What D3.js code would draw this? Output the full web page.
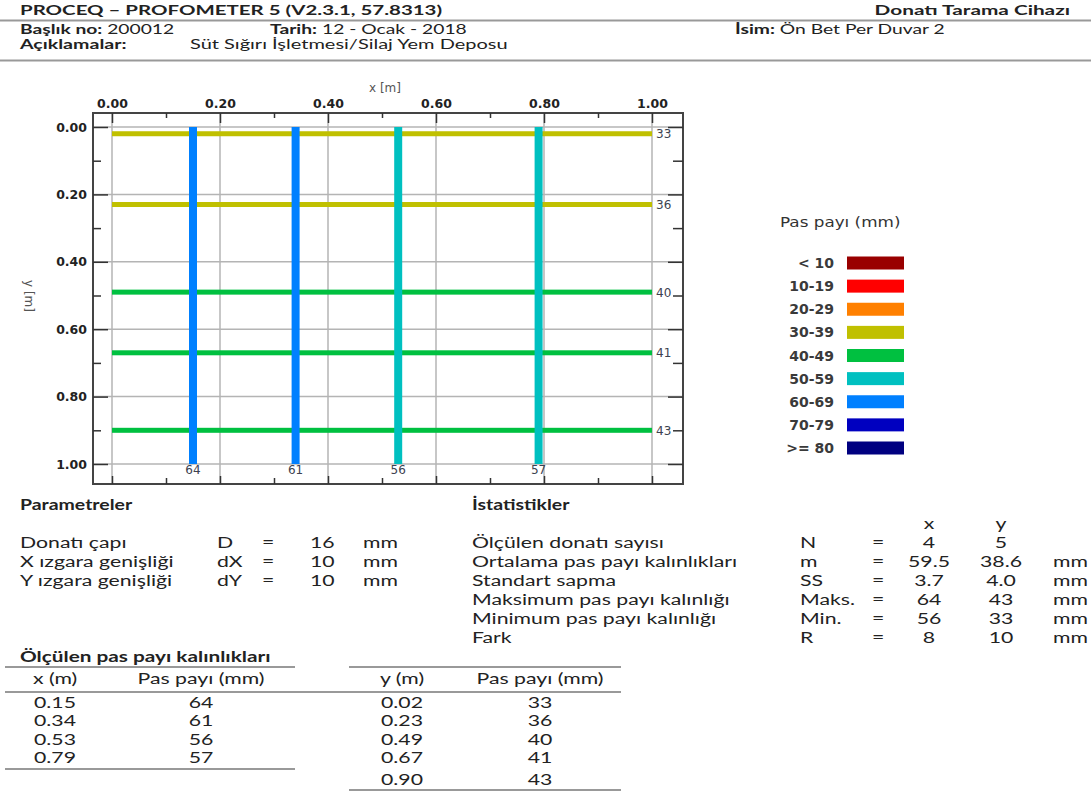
<!DOCTYPE html>
<html>
<head>
<meta charset="utf-8">
<script src="https://cdn.jsdelivr.net/npm/d3@7"></script>
<style>
  body { margin: 0; background: #fff; }
  svg text { font-family: Lato, sans-serif; fill: #222; }
  .plot text { font-family: "DejaVu Sans", sans-serif; }
</style>
</head>
<body>
<svg id="chart" width="1091" height="791"></svg>
<script>
// measured rebars along x (vertical bars) and y (horizontal bars)
const xPos = [0.15, 0.34, 0.53, 0.79];
const xCover = [64, 61, 56, 57];
const yPos = [0.02, 0.23, 0.49, 0.67, 0.90];
const yCover = [33, 36, 40, 41, 43];

// cover classes for the legend
const legendLabels = ["< 10", "10-19", "20-29", "30-39", "40-49", "50-59", "60-69", "70-79", ">= 80"];
const legendColors = ["#990000", "#ff0000", "#ff8000", "#c0c000", "#00c040", "#00c0c0", "#0080ff", "#0000c0", "#000080"];
const legendBreaks = [10, 20, 30, 40, 50, 60, 70, 80];

const majorTicks = [0, 0.2, 0.4, 0.6, 0.8, 1.0];
const minorTicks = [0.1, 0.3, 0.5, 0.7, 0.9];

// parameters block
const paramLabels = ["Donatı çapı", "X ızgara genişliği", "Y ızgara genişliği"];
const paramSymbols = ["D", "dX", "dY"];
const paramValues = ["16", "10", "10"];

// statistics block
const statLabels = ["Ölçülen donatı sayısı", "Ortalama pas payı kalınlıkları", "Standart sapma",
  "Maksimum pas payı kalınlığı", "Minimum pas payı kalınlığı", "Fark"];
const statSymbols = ["N", "m", "SS", "Maks.", "Min.", "R"];
const statX = ["4", "59.5", "3.7", "64", "56", "8"];
const statY = ["5", "38.6", "4.0", "43", "33", "10"];
const statUnits = ["", "mm", "mm", "mm", "mm", "mm"];

// tables
const tableX = ["0.15", "0.34", "0.53", "0.79"];
const tableY = ["0.02", "0.23", "0.49", "0.67", "0.90"];

const svg = d3.select("#chart");
svg.append("rect").attr("width", 1091).attr("height", 791).attr("fill", "#fff");

// width of a sample string, used to work out the sideways stretch
const sample = "Ortalama pas payı kalınlıkları Süt Sığırı PROCEQ 0.15";
function measure(family, size, bold) {
  const t = svg.append("text").style("font-family", family).style("font-size", size + "px")
    .style("font-weight", bold ? "bold" : "normal").text(sample);
  const w = t.node().getComputedTextLength();
  t.remove();
  return w;
}

// the report font is wide and short, so text gets stretched sideways.
// size/sx were tuned with Open Sans; lsize is the Lato size used in the end
function txt(x, y, s, opts) {
  opts = opts || {};
  const size = opts.size || 16;
  const lsize = opts.lsize || 15;
  const sx0 = opts.sx || (opts.bold ? 1.17 : 1.27);
  const sx = sx0 * measure("Open Sans", size, opts.bold) / measure("Lato", lsize, opts.bold);
  return svg.append("text")
    .attr("transform", `translate(${x},${y}) scale(${sx.toFixed(3)},1)`)
    .attr("text-anchor", opts.anchor || "start")
    .style("font-size", lsize + "px")
    .style("font-weight", opts.bold ? "bold" : "normal")
    .text(s);
}

function pair(x, y, label, value) {
  const sx = 1.27 * measure("Open Sans", 14.5, false) / measure("Lato", 12.5, false);
  const t = svg.append("text")
    .attr("transform", `translate(${x},${y}) scale(${sx.toFixed(3)},1)`)
    .style("font-size", "12.5px");
  t.append("tspan").style("font-weight", "bold").text(label);
  t.append("tspan").text(" " + value);
}

// ---------- header ----------
txt(20, 15, "PROCEQ – PROFOMETER 5 (V2.3.1, 57.8313)", {bold: true, size: 15, sx: 1.23, lsize: 14});
txt(1070, 15, "Donatı Tarama Cihazı", {bold: true, size: 15, sx: 1.25, lsize: 14, anchor: "end"});
svg.append("line").attr("x1", 0).attr("x2", 1091).attr("y1", 20.5).attr("y2", 20.5)
  .attr("stroke", "#999").attr("stroke-width", 2);
pair(20, 34, "Başlık no:", "200012");
pair(270, 34, "Tarih:", "12 - Ocak - 2018");
pair(735, 34, "İsim:", "Ön Bet Per Duvar 2");
txt(20, 49, "Açıklamalar:", {bold: true, size: 14.5, sx: 1.22, lsize: 12.5});
txt(190, 49, "Süt Sığırı İşletmesi/Silaj Yem Deposu", {size: 14.5, sx: 1.32, lsize: 12.5});
svg.append("line").attr("x1", 0).attr("x2", 1091).attr("y1", 60.5).attr("y2", 60.5)
  .attr("stroke", "#999").attr("stroke-width", 2);

// ---------- plot ----------
const frame = {left: 93, right: 683, top: 113, bottom: 484};
const x = d3.scaleLinear().domain([0, 1]).range([112, 652]);
const y = d3.scaleLinear().domain([0, 1]).range([127, 464]);

const colorOf = d3.scaleThreshold().domain(legendBreaks).range(legendColors);

const plot = svg.append("g").attr("class", "plot");

// grid
plot.append("g").selectAll("line").data(majorTicks).join("line")
  .attr("x1", d => x(d)).attr("x2", d => x(d))
  .attr("y1", frame.top).attr("y2", frame.bottom)
  .attr("stroke", "#b4b4b4").attr("stroke-width", 1.5);
plot.append("g").selectAll("line").data(majorTicks).join("line")
  .attr("y1", d => y(d)).attr("y2", d => y(d))
  .attr("x1", frame.left).attr("x2", frame.right)
  .attr("stroke", "#b4b4b4").attr("stroke-width", 1.5);

// horizontal rebars (y direction)
plot.append("g").selectAll("rect").data(yPos).join("rect")
  .attr("x", x(0)).attr("width", x(1) - x(0))
  .attr("y", d => y(d) - 2.5).attr("height", 5)
  .attr("fill", (d, i) => colorOf(yCover[i]));

// vertical rebars (x direction)
plot.append("g").selectAll("rect").data(xPos).join("rect")
  .attr("x", d => x(d) - 4).attr("width", 8)
  .attr("y", y(0)).attr("height", y(1) - y(0))
  .attr("fill", (d, i) => colorOf(xCover[i]));

// frame
plot.append("rect")
  .attr("x", frame.left).attr("y", frame.top)
  .attr("width", frame.right - frame.left).attr("height", frame.bottom - frame.top)
  .attr("fill", "none").attr("stroke", "#444").attr("stroke-width", 2);

function styleAxis(g) {
  g.select(".domain").remove();
  g.selectAll(".tick line").attr("stroke", "#333").attr("stroke-width", 1.5);
  g.selectAll(".tick text")
    .attr("fill", "#444")
    .style("font-family", "DejaVu Sans")
    .style("font-size", "12.5px")
    .style("font-weight", "bold");
}

const fmt = d3.format(".2f");

plot.append("g").attr("transform", `translate(0,${frame.top})`)
  .call(d3.axisTop(x).tickValues(majorTicks).tickFormat(fmt).tickSizeInner(-10).tickSizeOuter(0).tickPadding(5))
  .call(styleAxis);
plot.append("g").attr("transform", `translate(0,${frame.top})`)
  .call(d3.axisTop(x).tickValues(minorTicks).tickFormat("").tickSizeInner(-5).tickSizeOuter(0))
  .call(styleAxis);
plot.append("g").attr("transform", `translate(0,${frame.bottom})`)
  .call(d3.axisBottom(x).tickValues(majorTicks).tickFormat("").tickSizeInner(-8).tickSizeOuter(0))
  .call(styleAxis);
plot.append("g").attr("transform", `translate(0,${frame.bottom})`)
  .call(d3.axisBottom(x).tickValues(minorTicks).tickFormat("").tickSizeInner(-6).tickSizeOuter(0))
  .call(styleAxis);
plot.append("g").attr("transform", `translate(${frame.left},0)`)
  .call(d3.axisLeft(y).tickValues(majorTicks).tickFormat(fmt).tickSizeInner(-15).tickSizeOuter(0).tickPadding(6))
  .call(styleAxis);
plot.append("g").attr("transform", `translate(${frame.left},0)`)
  .call(d3.axisLeft(y).tickValues(minorTicks).tickFormat("").tickSizeInner(-8).tickSizeOuter(0))
  .call(styleAxis);
plot.append("g").attr("transform", `translate(${frame.right},0)`)
  .call(d3.axisRight(y).tickValues(majorTicks).tickFormat("").tickSizeInner(-15).tickSizeOuter(0))
  .call(styleAxis);
plot.append("g").attr("transform", `translate(${frame.right},0)`)
  .call(d3.axisRight(y).tickValues(minorTicks).tickFormat("").tickSizeInner(-10).tickSizeOuter(0))
  .call(styleAxis);

// axis titles
plot.append("text").attr("x", 385).attr("y", 92).attr("text-anchor", "middle")
  .style("font-size", "12px").style("fill", "#555").text("x [m]");
plot.append("text").attr("transform", "translate(25,296) rotate(90)").attr("text-anchor", "middle")
  .style("font-size", "12px").style("fill", "#555").text("y [m]");

// cover labels
plot.append("g").selectAll("text").data(xPos).join("text")
  .attr("x", d => x(d)).attr("y", y(1) + 10).attr("text-anchor", "middle")
  .style("font-size", "12px").style("fill", "#3c4250")
  .text((d, i) => xCover[i]);
plot.append("g").selectAll("text").data(yPos).join("text")
  .attr("x", x(1) + 4).attr("y", d => y(d) + 4.5)
  .style("font-size", "12px").style("fill", "#3c4250")
  .text((d, i) => yCover[i]);

// ---------- legend ----------
const lg = svg.append("g").attr("class", "plot");
lg.append("text").attr("transform", "translate(780,227) scale(1.2,1)")
  .style("font-size", "14px").style("fill", "#333").text("Pas payı (mm)");
const ly = d3.scalePoint().domain(legendLabels).range([263, 448]);
lg.selectAll("text.lab").data(legendLabels).join("text").attr("class", "lab")
  .attr("x", 834).attr("y", d => ly(d) + 5).attr("text-anchor", "end")
  .style("font-size", "14px").style("font-weight", "bold").style("fill", "#3a3a3a")
  .text(d => d);
lg.selectAll("rect").data(legendLabels).join("rect")
  .attr("x", 847).attr("y", d => ly(d) - 6.5).attr("width", 57).attr("height", 13)
  .attr("fill", (d, i) => legendColors[i]);

// ---------- parameters ----------
txt(20, 510, "Parametreler", {bold: true, size: 15, lsize: 14.5});
paramLabels.forEach((s, i) => {
  const yy = 548 + i * 19;
  txt(20, yy, s);
  txt(217, yy, paramSymbols[i]);
  txt(262, yy, "=");
  txt(310, yy, paramValues[i]);
  txt(363, yy, "mm");
});

// ---------- statistics ----------
txt(472, 510, "İstatistikler", {bold: true, size: 15, lsize: 14.5});
txt(929, 529, "x", {anchor: "middle"});
txt(1001, 529, "y", {anchor: "middle"});
statLabels.forEach((s, i) => {
  const yy = 548 + i * 19;
  txt(472, yy, s);
  txt(800, yy, statSymbols[i]);
  txt(872, yy, "=");
  txt(929, yy, statX[i], {anchor: "middle"});
  txt(1001, yy, statY[i], {anchor: "middle"});
  txt(1053, yy, statUnits[i]);
});

// ---------- tables ----------
function hline(x1, x2, yy) {
  svg.append("line").attr("x1", x1).attr("x2", x2).attr("y1", yy).attr("y2", yy)
    .attr("stroke", "#777").attr("stroke-width", 1.5);
}
txt(20, 662, "Ölçülen pas payı kalınlıkları", {bold: true, size: 15, sx: 1.25, lsize: 14.5});
hline(5, 295, 667);
hline(349, 621, 667);
const cell = {lsize: 14.5};
txt(55, 684, "x (m)", {anchor: "middle", lsize: 14.5});
txt(201, 684, "Pas payı (mm)", {anchor: "middle", lsize: 14.5});
txt(402, 684, "y (m)", {anchor: "middle", lsize: 14.5});
txt(540, 684, "Pas payı (mm)", {anchor: "middle", lsize: 14.5});
hline(5, 621, 692);
const rowY = [708, 726, 745, 763, 785];
tableX.forEach((s, i) => {
  txt(55, rowY[i], s, {anchor: "middle", lsize: cell.lsize});
  txt(201, rowY[i], String(xCover[i]), {anchor: "middle", lsize: cell.lsize});
});
hline(5, 295, 769);
tableY.forEach((s, i) => {
  txt(402, rowY[i], s, {anchor: "middle", lsize: cell.lsize});
  txt(540, rowY[i], String(yCover[i]), {anchor: "middle", lsize: cell.lsize});
});
hline(349, 621, 790);
</script>
</body>
</html>
